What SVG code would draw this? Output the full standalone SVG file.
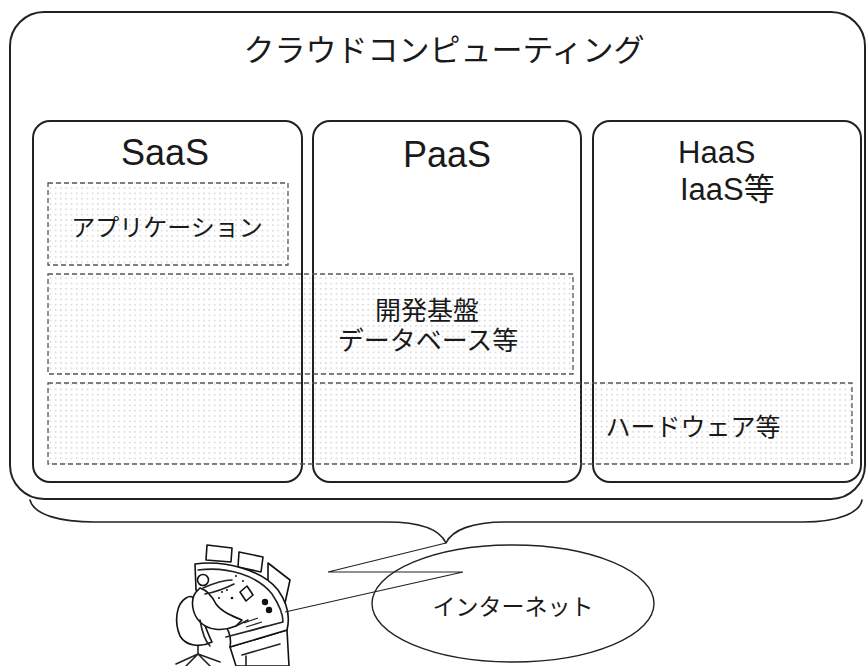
<svg xmlns="http://www.w3.org/2000/svg" width="867" height="666" viewBox="0 0 867 666">
  <defs>
    <pattern id="dots" width="5.3" height="5.3" patternUnits="userSpaceOnUse">
      <circle cx="2.6" cy="2.6" r="0.6" fill="#9a9a9a"/>
    </pattern>
    <style>
      .frame { fill: #fff; stroke: #222; stroke-width: 2; }
      .tier { fill: url(#dots); stroke: #555; stroke-width: 1.3; stroke-dasharray: 5 3; }
      .line { fill: none; stroke: #222; stroke-width: 1.6; stroke-linejoin: round; stroke-linecap: round; }
      .thin { fill: none; stroke: #222; stroke-width: 1.2; }
      .jp { font-family: "Noto Sans CJK JP", "Liberation Sans", sans-serif; fill: #1a1a1a; }
      .en { font-family: "Liberation Sans", "Noto Sans CJK JP", sans-serif; fill: #1a1a1a; }
      .art { fill: #fff; stroke: #111; stroke-width: 1.6; stroke-linejoin: round; stroke-linecap: round; }
    </style>
  </defs>

  <!-- Cloud computing frame -->
  <g id="cloud">
    <rect class="frame" x="10" y="12" width="855" height="487" rx="34" ry="34"/>
    <text class="jp" x="444" y="61" font-size="31" text-anchor="middle">クラウドコンピューティング</text>
  </g>

  <!-- Service columns -->
  <g id="saas">
    <rect class="frame" x="33" y="121" width="269" height="361" rx="17" ry="17"/>
    <text class="en" x="165" y="165" font-size="36" text-anchor="middle">SaaS</text>
  </g>
  <g id="paas">
    <rect class="frame" x="313" y="121" width="268" height="361" rx="17" ry="17"/>
    <text class="en" x="447" y="167" font-size="36" text-anchor="middle">PaaS</text>
  </g>
  <g id="haas">
    <rect class="frame" x="593" y="121" width="268" height="361" rx="17" ry="17"/>
    <text class="en" x="678" y="163" font-size="31">HaaS</text>
    <text class="en" x="680" y="200" font-size="31">IaaS等</text>
  </g>

  <!-- Layers spanning the columns -->
  <g id="application">
    <rect class="tier" x="48" y="183" width="240" height="82"/>
    <text class="jp" x="167" y="236" font-size="24" text-anchor="middle">アプリケーション</text>
  </g>
  <g id="platform">
    <rect class="tier" x="48" y="274" width="525" height="100"/>
    <text class="en" x="427" y="320" font-size="26" text-anchor="middle">開発基盤</text>
    <text class="en" x="428" y="350" font-size="26" text-anchor="middle">データベース等</text>
  </g>
  <g id="hardware">
    <rect class="tier" x="48" y="383" width="804" height="81"/>
    <text class="jp" x="693" y="436" font-size="25" text-anchor="middle">ハードウェア等</text>
  </g>

  <!-- Internet -->
  <g id="internet">
    <ellipse cx="513" cy="603.5" rx="141" ry="58.5" fill="none" stroke="#222" stroke-width="1.4"/>
    <text class="jp" x="513" y="615" font-size="23" text-anchor="middle">インターネット</text>
  </g>

  <!-- User at a console -->
  <g id="user">
    <!-- monitors -->
    <path class="art" d="M207,545 L232,548 L231,562 L206,560 Z"/>
    <path class="art" d="M239,552 L263,557 L261,572 L238,567 Z"/>
    <path class="art" d="M268,563 L290,580 L285,603 L268,588 Z"/>
    <!-- desk legs and front -->
    <path class="art" d="M230,647 L287,630 L289,666 L236,666 Z"/>
    <path class="line" d="M242,655 L280,644 M246,666 L246,656"/>
    <!-- curved console top -->
    <path class="art" d="M195,564 C225,560 262,570 278,590 C288,604 290,618 287,630 L230,647 C232,636 228,628 222,622 C214,612 206,600 196,590 Z"/>
    <path class="line" d="M198,570 C228,566 258,576 272,594 C280,606 283,615 283,622 L226,637"/>
    <!-- controls on the console -->
    <path class="art" d="M240,592 L247,586 L253,595 L246,601 Z"/>
    <circle cx="265" cy="602" r="3.2" fill="#111"/>
    <circle cx="269" cy="610" r="3.2" fill="#111"/>
    <circle cx="222" cy="592" r="1" fill="#111"/>
    <circle cx="227" cy="590" r="1" fill="#111"/>
    <circle cx="219" cy="598" r="1" fill="#111"/>
    <circle cx="232" cy="598" r="1.3" fill="#111"/>
    <circle cx="236" cy="576" r="1" fill="#111"/>
    <circle cx="243" cy="581" r="1" fill="#111"/>
    <path class="thin" d="M244,623 L258,618 M246,627 L262,622 M250,631 L266,626"/>
    <!-- chair base -->
    <path class="line" d="M176,664 L198,654 L220,662 M186,666 L198,654 L210,666 M198,654 L198,640"/>
    <!-- chair back -->
    <path class="art" d="M186,598 C176,604 174,622 180,636 C186,646 200,648 212,642 C206,630 200,612 196,600 C193,596 189,596 186,598 Z"/>
    <!-- body and arms -->
    <path class="art" d="M196,592 C190,600 192,614 200,622 C208,630 222,632 236,626 L242,620 C232,616 222,612 216,604 C212,596 206,590 200,588 Z"/>
    <path class="line" d="M203,588 C212,584 222,580 232,580 M205,594 C216,592 226,588 234,584 M236,626 L248,620"/>
    <circle class="art" cx="203" cy="580" r="5.5"/>
    <path class="line" d="M200,620 C202,632 206,642 210,646"/>
  </g>

  <!-- Brace and link lines -->
  <g id="connectors">
    <path class="line" d="M30,500 C34,515 60,522 95,522 L387,522 C422,522 440,530 446,543 C452,530 472,522 505,522 L803,522 C840,522 860,512 862,500" stroke-width="1.8"/>
    <path class="thin" d="M446,543 L328,572 L463,572 L285,612"/>
  </g>
</svg>
